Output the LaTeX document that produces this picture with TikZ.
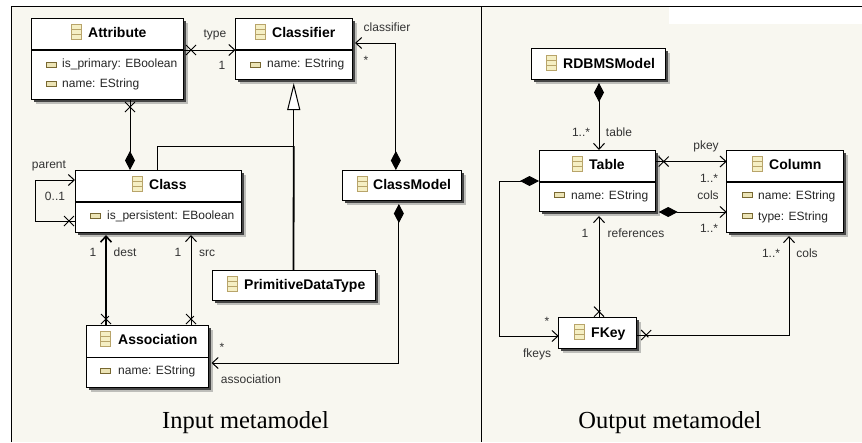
\documentclass[tikz,border=0pt]{standalone}
\usepackage{fontspec}
\setmainfont{Liberation Sans}
\newfontfamily\captionfont{Liberation Serif}
\usetikzlibrary{calc, arrows.meta, shadows, decorations.markings}
\definecolor{mycream}{RGB}{248, 247, 240}
\definecolor{mytan}{RGB}{184, 164, 106}
\definecolor{myyellow}{RGB}{245, 239, 196}
\definecolor{myolive}{RGB}{120, 104, 50}
\definecolor{mygray1}{RGB}{70, 70, 70}
\definecolor{mygray2}{RGB}{190, 190, 186}
\tikzset{
classbox/.style={draw, fill=white, line width=1pt, inner sep=0, outer sep=0,
  general shadow={shadow xshift=4.5pt, shadow yshift=-4.5pt, fill=mygray2},
  general shadow={shadow xshift=2.5pt, shadow yshift=-2.5pt, fill=mygray1}},
titletext/.style={anchor=base west, inner sep=0, font=\fontsize{14}{16}\selectfont\bfseries},
attrtext/.style={anchor=base west, inner sep=0, font=\fontsize{12}{14}\selectfont, text=black!85},
roletext/.style={anchor=base, inner sep=0, font=\fontsize{12}{14}\selectfont, text=black!80},
captiontext/.style={anchor=base, inner sep=0, font=\fontsize{24.5}{28}\selectfont\captionfont},
tohead/.style={line width=1pt, -{Straight Barb[length=6pt,width=11pt]}},
dmdhead/.style={line width=1pt, {Diamond[length=19pt,width=10pt]}-{Straight Barb[length=6pt,width=11pt]}},
xmark/.style={postaction={decorate, decoration={markings, mark=at position #1 with
  {\draw[-, line width=1pt] (-5pt,-5pt) -- (5pt,5pt) (-5pt,5pt) -- (5pt,-5pt);}}}},
classicon/.pic={
  \draw[mytan, fill=myyellow, line width=1pt] (-5,-7.5) rectangle (5,7.5);
  \draw[mytan, line width=.8pt] (-5,-2.5) -- (5,-2.5) (-5,2.5) -- (5,2.5);
},
attricon/.pic={
  \draw[myolive, fill=myyellow!85!mytan, line width=1pt] (-5,-2.5) rectangle (5,2.5);
}
}
\begin{document}
\begin{tikzpicture}[x=1pt, y=-1pt]
\useasboundingbox (0,0) rectangle (862,442);
\fill[mycream] (0,0) rectangle (862,442);
\fill[white] (0,0) rectangle (11,442);
\fill[white] (0,0) rectangle (862,6);
\fill[white] (669,6) rectangle (862,24);
\draw[line width=1pt] (11,442) |- (862,6);
\draw[line width=1pt] (481,6) -- (481,442);

% input metamodel
\node[classbox, minimum width=152pt, minimum height=81pt] (attribute) at (107,58.5) {};
\node[classbox, minimum width=116.5pt, minimum height=61pt] (classifier) at (293.75,48.5) {};
\node[classbox, minimum width=166pt, minimum height=62pt] (class) at (158,201) {};
\node[classbox, minimum width=121.3pt, minimum height=62pt] (association) at (147.35,356) {};
\node[classbox, minimum width=119.7pt, minimum height=30.5pt] (classmodel) at (401.85,185.25) {};
\node[classbox, minimum width=163pt, minimum height=30pt] (primitive) at (293.5,285) {};
\draw[line width=1.6pt] ($(attribute.north west)+(0,32)$) -- ($(attribute.north east)+(0,32)$);
\draw[line width=1.6pt] ($(classifier.north west)+(0,32)$) -- ($(classifier.north east)+(0,32)$);
\draw[line width=1.6pt] ($(class.north west)+(0,32)$) -- ($(class.north east)+(0,32)$);
\draw[line width=1pt] ($(association.north west)+(0,32)$) -- ($(association.north east)+(0,32)$);

\node[titletext] (attributetitle) at (88,37) {Attribute};
\node[titletext] (classifiertitle) at (272,37) {Classifier};
\node[titletext] (classtitle) at (149,189) {Class};
\node[titletext] (associationtitle) at (118,344) {Association};
\node[titletext] (classmodeltitle) at (373,189) {ClassModel};
\node[titletext] (primitivetitle) at (244,289) {PrimitiveDataType};
\node[attrtext] (isprimary) at (62,67) {is\_primary: EBoolean};
\node[attrtext] (attrname) at (62,87) {name: EString};
\node[attrtext] (classifiername) at (267,67) {name: EString};
\node[attrtext] (ispersistent) at (107,219) {is\_persistent: EBoolean};
\node[attrtext] (assocname) at (118,374) {name: EString};

\draw[tohead, xmark=8pt] ([yshift=8.5pt]attribute.east) -- ([yshift=-1.5pt]classifier.west);
\draw[line width=1pt, {Diamond[length=19pt,width=10pt]}-, xmark=63pt] ([xshift=-28pt]class.north) -- ([xshift=23pt]attribute.south);
\draw[tohead, xmark=6pt] ([yshift=-20pt]class.west) -- ++(-40,0) -- ++(0,-41) -- ([yshift=21pt]class.west);
\draw[tohead, line width=1.6pt, xmark=6pt, shorten >=3pt] ([xshift=-41.35pt]association.north) -- ([xshift=-52pt]class.south);
\draw[tohead, xmark=6pt, shorten >=3pt] ([xshift=43.65pt]association.north) -- ([xshift=33pt]class.south);
\coordinate (branch) at (293.75,146);
\draw[line width=1pt] ([xshift=-1pt]class.north) |- (branch);
\draw[line width=1.8pt] (primitive.north) -- (branch);
\draw[line width=1pt, -{Triangle[open, fill=white, length=27pt, width=13pt]}, shorten >=4pt] (branch) -- (classifier.south);
\draw[dmdhead, shorten >=3pt] ([xshift=-6pt]classmodel.north) |- ([yshift=5.5pt]classifier.east);
\draw[dmdhead, shorten <=3.5pt, shorten >=3.5pt] ([xshift=-3pt]classmodel.south) |- ([yshift=-7pt]association.east);

\node[roletext] (typelabel) at (215,37) {type};
\node[roletext] (typemult) at (222,69) {1};
\node[roletext] (parentlabel) at (49,168) {parent};
\node[roletext] (parentmult) at (55,200) {0..1};
\node[roletext] (destmult) at (93,256) {1};
\node[roletext] (destlabel) at (125,256) {dest};
\node[roletext] (srcmult) at (178,256) {1};
\node[roletext] (srclabel) at (207,256) {src};
\node[roletext] (classifierlabel) at (387,31) {classifier};
\node[roletext] (classifiermult) at (366,64) {*};
\node[roletext] (assocmult) at (222,351) {*};
\node[roletext] (assoclabel) at (251,383) {association};
\node[captiontext] (inputcaption) at (245.5,428) {Input metamodel};

% output metamodel
\node[classbox, minimum width=134pt, minimum height=30.3pt] (rdbms) at (598,63.85) {};
\node[classbox, minimum width=116.7pt, minimum height=61pt] (table) at (597.35,180.5) {};
\node[classbox, minimum width=117pt, minimum height=82pt] (column) at (785.2,191) {};
\node[classbox, minimum width=78pt, minimum height=31pt] (fkey) at (597.7,333.2) {};
\draw[line width=1.6pt] ($(table.north west)+(0,32)$) -- ($(table.north east)+(0,32)$);
\draw[line width=1.6pt] ($(column.north west)+(0,32)$) -- ($(column.north east)+(0,32)$);

\foreach \x/\y in {76/32, 260/32, 137/184, 105.5/339, 362/184, 232/284, 551/63, 577/164, 757/164, 579/332}{
\pic at (\x,\y) {classicon};
}
\foreach \x/\y in {51/64.5, 51/83.5, 255/64.5, 95/216, 105.5/371, 559/195, 747/195, 747/216}{
\pic at (\x,\y) {attricon};
}

\node[titletext] (rdbmstitle) at (563,68) {RDBMSModel};
\node[titletext] (tabletitle) at (589,169) {Table};
\node[titletext] (columntitle) at (769,169) {Column};
\node[titletext] (fkeytitle) at (591,337) {FKey};
\node[attrtext] (tablename) at (571,199) {name: EString};
\node[attrtext] (columnname) at (758,199) {name: EString};
\node[attrtext] (columntype) at (758,220) {type: EString};

\draw[dmdhead, shorten <=4pt] ([xshift=1pt]rdbms.south) -- ([xshift=1.65pt]table.north);
\draw[tohead, xmark=8pt] ([yshift=19pt]table.east) -- ([yshift=29.5pt]column.west);
\draw[dmdhead, shorten <=3pt] ([yshift=-31.5pt]table.east) -- ([yshift=-21pt]column.west);
\draw[dmdhead] ([yshift=-.5pt]table.west) -- ++(-40,0) |- ([yshift=-2.8pt]fkey.west);
\draw[tohead, xmark=6pt, shorten >=5pt] ([xshift=1.3pt]fkey.north) -- ([xshift=1.65pt]table.south);
\draw[tohead, xmark=9.5pt, shorten >=4pt] ([yshift=-1.8pt]fkey.east) -| ([xshift=3.8pt]column.south);

\node[roletext] (tablemult) at (581,136) {1..*};
\node[roletext] (tablelabel) at (619,136) {table};
\node[roletext] (pkeylabel) at (706,149) {pkey};
\node[roletext] (pkeymult) at (709,182) {1..*};
\node[roletext] (colslabel) at (708,199) {cols};
\node[roletext] (colsmult) at (709,232) {1..*};
\node[roletext] (fkeysmult) at (547,325) {*};
\node[roletext] (fkeyslabel) at (537,357) {fkeys};
\node[roletext] (refmult) at (585,237) {1};
\node[roletext] (reflabel) at (636,237) {references};
\node[roletext] (fkcolsmult) at (771,257) {1..*};
\node[roletext] (fkcolslabel) at (807,257) {cols};
\node[captiontext] (outputcaption) at (670,428) {Output metamodel};
\end{tikzpicture}
\end{document}
